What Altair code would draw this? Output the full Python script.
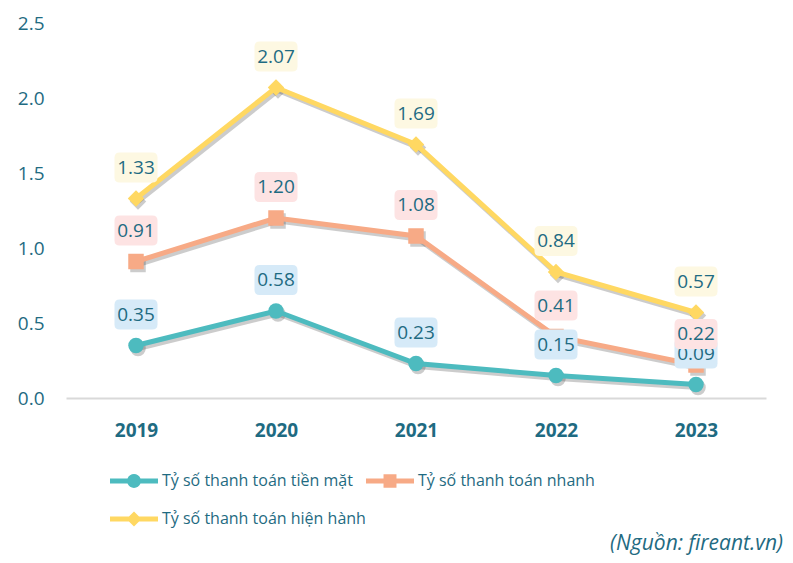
import altair as alt
import pandas as pd

years = ["2019", "2020", "2021", "2022", "2023"]
series = ["Tỷ số thanh toán tiền mặt", "Tỷ số thanh toán nhanh", "Tỷ số thanh toán hiện hành"]
cash = [0.35, 0.58, 0.23, 0.15, 0.09]
quick = [0.91, 1.20, 1.08, 0.41, 0.22]
current = [1.33, 2.07, 1.69, 0.84, 0.57]
y_ticks = [0.0, 0.5, 1.0, 1.5, 2.0, 2.5]
source_text = "(Nguồn: fireant.vn)"

line_colors = ["#4dbbbf", "#f7aa86", "#ffd862"]
box_colors = ["#d6eaf8", "#fde3e3", "#fdf8e2"]
marker_shapes = ["circle", "square", "diamond"]
marker_sizes = [240, 240, 270]
TEXT = "#1f6b82"
FONT = "Open Sans"

values = [cash, quick, current]
rows = []
for s, vals in zip(series, values):
    for yr, v in zip(years, vals):
        rows.append({"year": yr, "series": s, "value": v})
df = pd.DataFrame(rows)

x_enc = alt.X("year:O", scale=alt.Scale(type="point", padding=0.5, domain=years),
              axis=alt.Axis(title=None, labelAngle=0, ticks=False, labelFont=FONT,
                            labelFontSize=19, labelFontWeight="bold", labelColor=TEXT,
                            labelPadding=23, domainColor="#d9d9d9", domainWidth=2, grid=False))
y_enc = alt.Y("value:Q", scale=alt.Scale(domain=[0, 2.5], nice=False, zero=True),
              axis=alt.Axis(title=None, values=y_ticks, format=".1f", ticks=False, domain=False,
                            grid=False, labelFont=FONT, labelFontSize=19, labelColor=TEXT,
                            labelPadding=22))

box_path = ("M-0.76,-0.70 H0.76 Q1,-0.70 1,-0.46 V0.46 Q1,0.70 0.76,0.70 "
            "H-0.76 Q-1,0.70 -1,0.46 V-0.46 Q-1,-0.70 -0.76,-0.70 Z")

legend_paths = [
    "M-2,-0.21 H-0.54 A0.58,0.58 0 0,1 0.54,-0.21 H2 V0.21 H0.54 A0.58,0.58 0 0,1 -0.54,0.21 H-2 Z",
    "M-2,-0.21 H-0.54 V-0.56 H0.54 V-0.21 H2 V0.21 H0.54 V0.56 H-0.54 V0.21 H-2 Z",
    "M-2,-0.21 H-0.42 L0,-0.63 L0.42,-0.21 H2 V0.21 H0.42 L0,0.63 L-0.42,0.21 H-2 Z",
]

base = alt.Chart(df)
layers = []
# lines with shadows
for s, col, shp, sz in zip(series, line_colors, marker_shapes, marker_sizes):
    sub = base.transform_filter(alt.datum.series == s)
    layers.append(sub.mark_line(color="#333333", opacity=0.25, strokeWidth=5, xOffset=2, yOffset=3)
                  .encode(x=x_enc, y=y_enc))
    layers.append(sub.mark_point(shape=shp, size=sz, filled=True, color="#333333", opacity=0.25,
                                 xOffset=2, yOffset=3).encode(x=x_enc, y=y_enc))
    layers.append(sub.mark_line(color=col, strokeWidth=5).encode(x=x_enc, y=y_enc))
    layers.append(sub.mark_point(shape=shp, size=sz, filled=True, color=col, opacity=1)
                  .encode(x=x_enc, y=y_enc))

# labels
for s, bcol in zip(series, box_colors):
    sub = base.transform_filter(alt.datum.series == s)
    layers.append(sub.mark_point(shape=box_path, size=1849, filled=True, color=bcol, opacity=1,
                                 strokeWidth=0, yOffset=-31).encode(x=x_enc, y=y_enc))
    layers.append(sub.mark_text(font=FONT, fontSize=19, color=TEXT, yOffset=-31, baseline="middle")
                  .encode(x=x_enc, y=y_enc, text=alt.Text("value:Q", format=".2f")))

# legend layer
leg = alt.Legend(title=None, orient="none", legendX=56, legendY=446, columns=2,
                 direction="horizontal", gridAlign="none",
                 symbolSize=576, symbolStrokeWidth=0, symbolOpacity=1, labelFont=FONT,
                 labelFontSize=16, labelColor=TEXT, labelOffset=16, labelLimit=400,
                 columnPadding=0, rowPadding=18, padding=0)
legend_layer = base.transform_filter(alt.datum.year == "2019").mark_point(
    filled=True, opacity=0, size=10).encode(
    x=x_enc, y=y_enc,
    color=alt.Color("series:N", scale=alt.Scale(domain=series, range=line_colors), legend=leg),
    shape=alt.Shape("series:N", scale=alt.Scale(domain=series, range=legend_paths), legend=leg),
)
layers.append(legend_layer)

source = alt.Chart(alt.Data(values=[{"t": source_text}])).mark_text(
    font=FONT, fontSize=21, fontStyle="italic", color=TEXT, align="right", baseline="alphabetic"
).encode(x=alt.value(717), y=alt.value(527), text="t:N")
layers.append(source)

chart = alt.layer(*layers).properties(
    width=700, height=375,
    autosize=alt.AutoSizeParams(type="none"),
    padding={"left": 58, "top": 15, "right": 19, "bottom": 157},
).configure_view(stroke=None)

chart.save("out.html", embed_options={"renderer": "svg", "actions": False})
